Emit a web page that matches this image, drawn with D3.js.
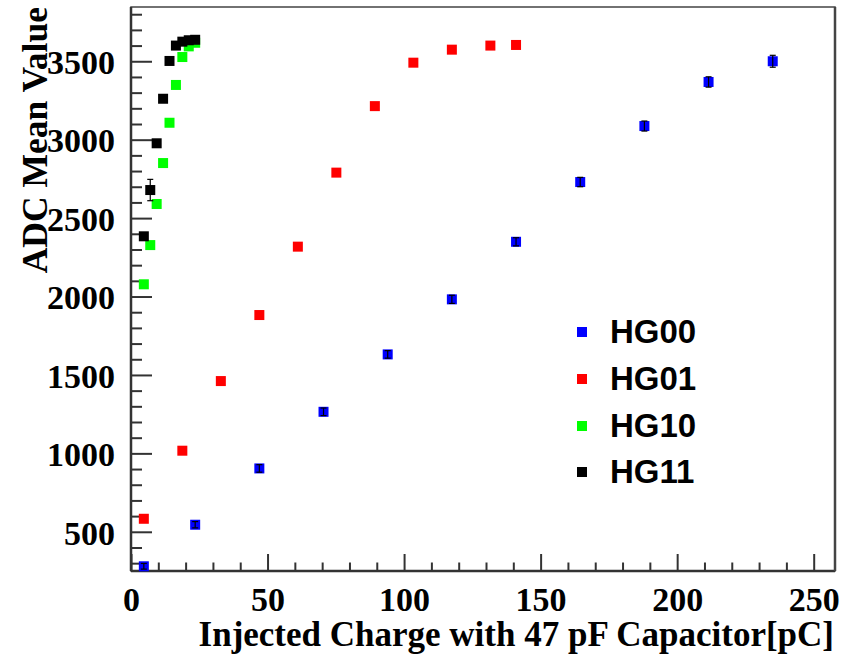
<!DOCTYPE html>
<html><head><meta charset="utf-8">
<script src="https://cdn.jsdelivr.net/npm/d3@7"></script>
<style>body{margin:0;background:#fff;} svg{display:block;}</style>
</head><body><svg id="c" width="854" height="656"></svg>
<script>
const seriesNames = ["HG00", "HG01", "HG10", "HG11"];
const seriesColors = ["#0000ff", "#ff0000", "#00ff00", "#000000"];

const hg00X = [4.7, 23.5, 47, 70.5, 94, 117.5, 141, 164.5, 188, 211.5, 235];
const hg00Y = [280, 545, 904, 1265, 1631, 1982, 2349, 2730, 3087, 3368, 3500];
const hg00Err = [18, 20, 24, 24, 24, 26, 26, 30, 32, 33, 38];

const hg01X = [4.7, 18.8, 32.9, 47, 61.1, 75.2, 89.3, 103.4, 117.5, 131.6, 141];
const hg01Y = [583, 1017, 1461, 1882, 2318, 2790, 3214, 3491, 3574, 3600, 3604];
const hg01Err = [0, 0, 0, 0, 0, 0, 0, 0, 0, 0, 0];

const hg10X = [4.7, 7.05, 9.4, 11.75, 14.1, 16.45, 18.8, 21.15, 23.5];
const hg10Y = [2078, 2328, 2590, 2851, 3108, 3349, 3527, 3595, 3618];
const hg10Err = [0, 0, 0, 0, 0, 0, 0, 0, 0];

const hg11X = [4.7, 7.05, 9.4, 11.75, 14.1, 16.45, 18.8, 21.15, 23.5];
const hg11Y = [2384, 2679, 2977, 3261, 3502, 3600, 3625, 3634, 3637];
const hg11Err = [20, 68, 20, 20, 15, 10, 10, 10, 10];

const xMajorTicks = [0, 50, 100, 150, 200, 250];
const yMajorTicks = [500, 1000, 1500, 2000, 2500, 3000, 3500];
const xTitle = "Injected Charge with 47 pF Capacitor[pC]";
const yTitle = "ADC Mean Value";

const series = [
  {name: seriesNames[0], color: seriesColors[0], x: hg00X, y: hg00Y, e: hg00Err, errColor: "#000"},
  {name: seriesNames[1], color: seriesColors[1], x: hg01X, y: hg01Y, e: hg01Err, errColor: "#000"},
  {name: seriesNames[2], color: seriesColors[2], x: hg10X, y: hg10Y, e: hg10Err, errColor: "#000"},
  {name: seriesNames[3], color: seriesColors[3], x: hg11X, y: hg11Y, e: hg11Err, errColor: "#000"}
];

const L = 131, R = 835, T = 7, B = 571;
const svg = d3.select("#c");
const x = d3.scaleLinear().domain([0, 257.8]).range([L, R]);
const y = d3.scaleLinear().domain([250, 3846]).range([B, T]);

const serif = "'Liberation Serif', 'Times New Roman', serif";
const sans = "'Liberation Sans', Arial, sans-serif";

// frame
svg.append("rect").attr("x", L).attr("y", T).attr("width", R - L).attr("height", B - T)
  .attr("fill", "none").attr("stroke", "#444").attr("stroke-width", 1.5);

// minor ticks
const yMinor = d3.range(300, 3846, 100).filter(v => v % 500 !== 0);
const xMinor = d3.range(10, 257, 10).filter(v => v % 50 !== 0);

const gy = svg.append("g").attr("transform", `translate(${L},0)`);
gy.call(d3.axisLeft(y).tickValues(yMinor).tickSize(-11).tickFormat(""));
gy.append("g").call(d3.axisLeft(y).tickValues(yMajorTicks).tickSize(-21).tickPadding(16).tickFormat(d3.format("d")));
gy.selectAll(".domain").remove();
gy.selectAll("line").attr("stroke", "#333").attr("stroke-width", 2);
gy.selectAll("text").attr("font-family", serif).attr("font-weight", "bold").attr("font-size", 34)
  .attr("fill", "#000").attr("dy", "0.36em");

const gx = svg.append("g").attr("transform", `translate(0,${B})`);
gx.call(d3.axisBottom(x).tickValues(xMinor).tickSize(-8.5).tickFormat(""));
gx.append("g").call(d3.axisBottom(x).tickValues(xMajorTicks).tickSize(-17).tickPadding(16).tickFormat(d3.format("d")));
gx.selectAll(".domain").remove();
gx.selectAll("line").attr("stroke", "#333").attr("stroke-width", 2);
gx.selectAll("text").attr("font-family", serif).attr("font-weight", "bold").attr("font-size", 34)
  .attr("fill", "#000");

// axis lines
svg.append("line").attr("x1", L).attr("x2", L).attr("y1", T).attr("y2", B).attr("stroke", "#333").attr("stroke-width", 2.5);
svg.append("line").attr("x1", L).attr("x2", R).attr("y1", B).attr("y2", B).attr("stroke", "#333").attr("stroke-width", 2.5);
svg.append("line").attr("x1", R).attr("x2", R).attr("y1", T).attr("y2", B).attr("stroke", "#444").attr("stroke-width", 2.5);

// titles
svg.append("text").attr("x", R - 1).attr("y", 646).attr("text-anchor", "end")
  .attr("font-family", serif).attr("font-weight", "bold").attr("font-size", 35).text(xTitle);
svg.append("text").attr("transform", `translate(47,${T}) rotate(-90)`).attr("text-anchor", "end")
  .attr("font-family", serif).attr("font-weight", "bold").attr("font-size", 35.5).text(yTitle);

// data
const ms = 10;
series.forEach(s => {
  const g = svg.append("g");
  const pts = s.x.map((xv, i) => ({x: xv, y: s.y[i], e: s.e[i]}));
  g.selectAll("rect").data(pts).enter().append("rect")
    .attr("x", d => x(d.x) - ms / 2).attr("y", d => y(d.y) - ms / 2)
    .attr("width", ms).attr("height", ms).attr("fill", s.color);
  const eb = pts.filter(d => d.e > 0);
  const ge = g.append("g").attr("stroke", s.errColor).attr("stroke-width", 1.2);
  ge.selectAll("line.v").data(eb).enter().append("line")
    .attr("x1", d => x(d.x)).attr("x2", d => x(d.x))
    .attr("y1", d => y(d.y - d.e)).attr("y2", d => y(d.y + d.e));
  ge.selectAll("line.t").data(eb).enter().append("line")
    .attr("x1", d => x(d.x) - 3).attr("x2", d => x(d.x) + 3)
    .attr("y1", d => y(d.y + d.e)).attr("y2", d => y(d.y + d.e));
  ge.selectAll("line.b").data(eb).enter().append("line")
    .attr("x1", d => x(d.x) - 3).attr("x2", d => x(d.x) + 3)
    .attr("y1", d => y(d.y - d.e)).attr("y2", d => y(d.y - d.e));
});

// legend
const legY = [332, 379, 426, 472];
series.forEach((s, i) => {
  svg.append("rect").attr("x", 582 - 5).attr("y", legY[i] - 5).attr("width", 10).attr("height", 10).attr("fill", s.color);
  svg.append("text").attr("x", 610).attr("y", legY[i] + 11).attr("font-family", sans).attr("font-weight", "bold")
    .attr("font-size", 33).attr("fill", "#000").text(s.name);
});
</script></body></html>
